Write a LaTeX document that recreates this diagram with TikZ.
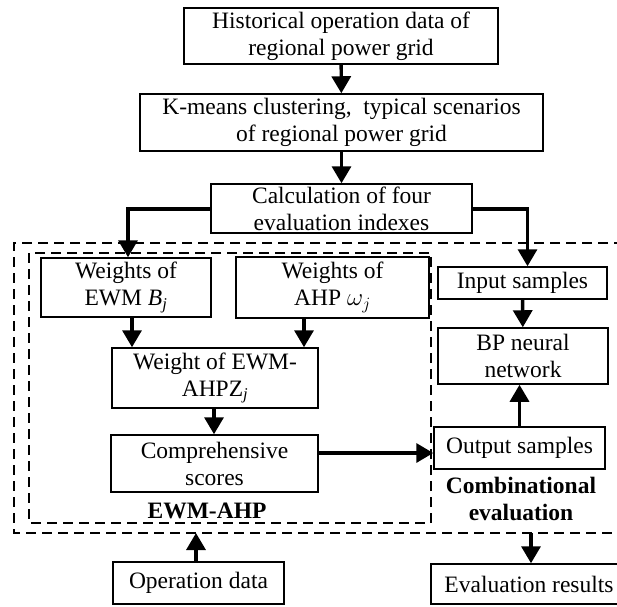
\documentclass[tikz,border=0pt]{standalone}
\usepackage{fontspec}
\setmainfont{Liberation Serif}
\usetikzlibrary{arrows.meta,calc}
\begin{document}
\begin{tikzpicture}[x=1pt,y=-1pt,
  box/.style={draw, line width=1.5pt, align=center, inner sep=0pt,
    font=\fontsize{23.5}{27}\selectfont},
  arr/.style={line width=3.4pt, -{Triangle[length=17pt,width=19pt]}},
  dashbox/.style={line width=1.4pt, dash pattern=on 10pt off 6pt},
  lbl/.style={align=center, font=\fontsize{23.5}{27}\selectfont\bfseries}]
\useasboundingbox (0,0) rectangle (617,606);
% dashed frames
\draw[dashbox] (640,243) -- (14,243) -- (14,533) -- (640,533);
\draw[dashbox] (29,253) rectangle (431,523);
\coordinate (opin) at (196,533);
\coordinate (evout) at (531,533);
% nodes
\node[box, minimum width=314, minimum height=56] (b1) at (341,36) {Historical operation data of\\regional power grid};
\node[box, minimum width=403, minimum height=57] (b2) at (341.5,122.5) {K-means clustering,\ \ typical scenarios\\of regional power grid};
\node[box, minimum width=261, minimum height=49] (b3) at (341.5,208.5) {Calculation of four\\evaluation indexes};
\node[box, fill=white, minimum width=170, minimum height=59] (ewm) at (126,287.5) {Weights of\\EWM \textit{B}\textsubscript{\textit{j}}};
\node[box, fill=white, minimum width=193, minimum height=61] (ahp) at (332.5,287.5) {Weights of\\AHP $\omega_j$};
\node[box, minimum width=206, minimum height=60] (comb) at (215,378) {Weight of EWM-\\AHPZ\textsubscript{\textit{j}}};
\node[box, minimum width=207, minimum height=57] (comp) at (214.5,463.5) {Comprehensive\\scores};
\node[box, minimum width=169, minimum height=32] (inp) at (522.5,283) {Input samples};
\node[box, minimum width=170, minimum height=56] (bp) at (523,356) {BP neural\\network};
\node[box, minimum width=171, minimum height=42] (out) at (519.5,448) {Output samples};
\node[box, minimum width=171, minimum height=42] (opd) at (198.5,583) {Operation data};
\node[box, minimum width=196, minimum height=40] (evr) at (529,584) {Evaluation results};
\node[lbl] (lewm) at (207,511) {EWM-AHP};
\node[lbl] (lcomb) at (521,499) {Combinational\\evaluation};
% connectors
\draw[arr] (b1) -- (b2);
\draw[arr] (b2) -- (b3);
\draw[arr] ([yshift=-0.5pt]b3.west) -| ([xshift=2pt]ewm.north);
\draw[arr] ([yshift=-0.5pt]b3.east) -| ([xshift=5pt]inp.north);
\draw[arr] ([xshift=6pt]ewm.south) -- ([xshift=6pt]ewm.south |- comb.north);
\draw[arr] ([xshift=-28.5pt]ahp.south) -- ([xshift=-28.5pt]ahp.south |- comb.north);
\draw[arr] ([xshift=-1pt]comb.south) -- ([xshift=-1pt]comb.south |- comp.north);
\draw[arr] ([yshift=10.5pt]comp.east) -- ([yshift=10.5pt]comp.east -| out.west);
\draw[arr] (inp) -- (bp);
\draw[arr] (out) -- (out.north |- bp.south);
\draw[arr] (opd.north -| opin) -- (opin);
\draw[arr] (evout) -- (evout |- evr.north);
\end{tikzpicture}
\end{document}
